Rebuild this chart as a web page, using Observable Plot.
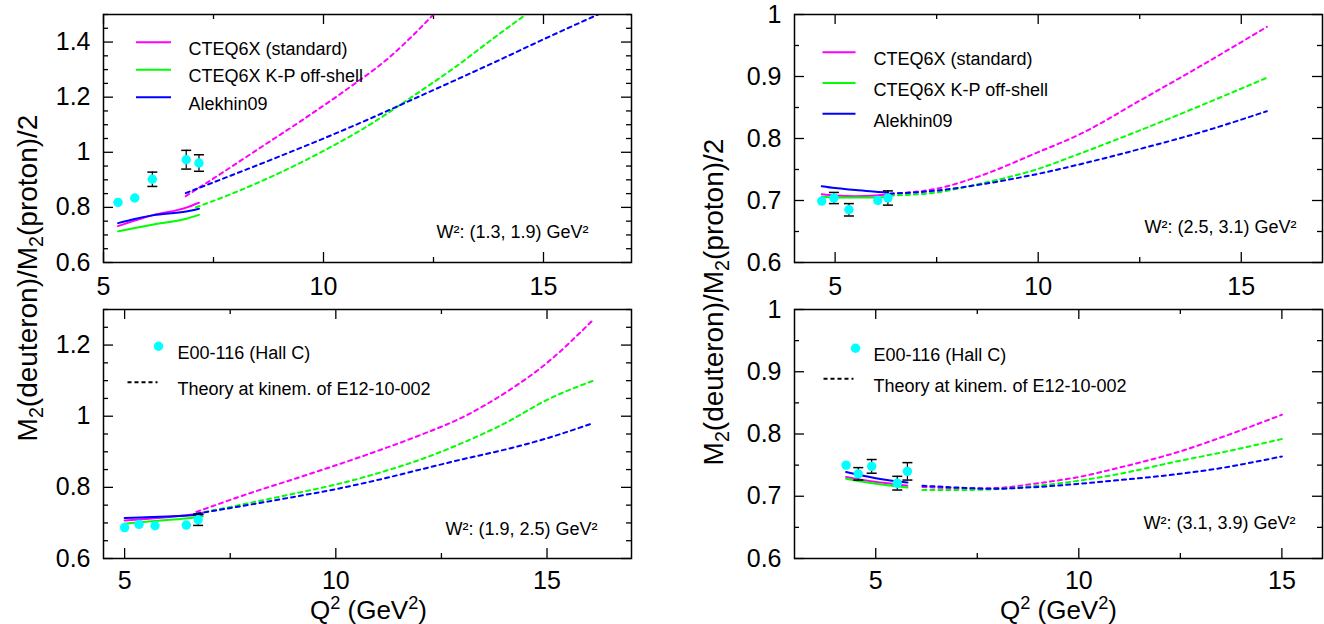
<!DOCTYPE html>
<html><head><meta charset="utf-8">
<script src="https://cdn.jsdelivr.net/npm/d3@7"></script>
<script src="https://cdn.jsdelivr.net/npm/@observablehq/plot@0.6"></script>
<style>
body{margin:0;background:#fff;}
#wrap{position:relative;width:1324px;height:624px;overflow:hidden;font-family:"Liberation Sans",Arial,Helvetica,sans-serif;}
#wrap svg{position:absolute;}
</style>
</head><body><div id="wrap"></div>
<script>
// ---------- data ----------
// Panel A: W^2 (1.3, 1.9)
const q2DataA = [5.33, 5.71, 6.11, 6.88, 7.17];
const ratioDataA = [0.818, 0.834, 0.902, 0.973, 0.961];
const errDataA = [0, 0, 0.026, 0.034, 0.030];
const q2SolidA = [5.33, 5.71, 6.11, 6.88, 7.17];
const cteqSolidA = [0.732, 0.752, 0.771, 0.799, 0.817];
const kpSolidA = [0.713, 0.725, 0.737, 0.759, 0.773];
const alekSolidA = [0.743, 0.758, 0.771, 0.785, 0.795];
const q2CteqDashA = [6.87, 7.5, 8.5, 9.5, 10.5, 11.5, 12.5];
const cteqDashA = [0.841, 0.905, 1.01, 1.115, 1.225, 1.345, 1.5];
const q2KpDashA = [7.1, 8, 9, 10, 11, 12, 13, 14, 14.6];
const kpDashA = [0.80, 0.855, 0.925, 1.005, 1.095, 1.2, 1.31, 1.43, 1.5];
const q2AlekDashA = [6.87, 8, 9, 10, 11, 12, 13, 14, 15, 16.24];
const alekDashA = [0.852, 0.922, 0.985, 1.05, 1.118, 1.19, 1.262, 1.335, 1.41, 1.5];

// Panel B: W^2 (2.5, 3.1)
const q2DataB = [4.67, 4.97, 5.34, 6.05, 6.30];
const ratioDataB = [0.699, 0.704, 0.685, 0.700, 0.704];
const errDataB = [0, 0.009, 0.010, 0, 0.0115];
const q2SolidB = [4.67, 5.0, 5.5, 6.0, 6.3];
const cteqSolidB = [0.710, 0.708, 0.707, 0.708, 0.710];
const kpSolidB = [0.706, 0.705, 0.705, 0.705, 0.706];
const alekSolidB = [0.723, 0.720, 0.717, 0.714, 0.713];
const q2DashB = [6.35, 7.5, 8.5, 10, 11, 12.5, 14, 15.63];
const cteqDashB = [0.711, 0.719, 0.738, 0.778, 0.806, 0.861, 0.917, 0.980];
const kpDashB = [0.708, 0.713, 0.726, 0.751, 0.775, 0.813, 0.853, 0.898];
const alekDashB = [0.711, 0.716, 0.725, 0.743, 0.758, 0.783, 0.810, 0.844];

// Panel C: W^2 (1.9, 2.5)
const q2DataC = [5.0, 5.34, 5.72, 6.46, 6.74];
const ratioDataC = [0.687, 0.696, 0.692, 0.694, 0.709];
const errDataC = [0, 0, 0, 0, 0.016];
const q2SolidC = [5.0, 5.5, 6.0, 6.5, 6.85];
const cteqSolidC = [0.707, 0.711, 0.716, 0.722, 0.729];
const kpSolidC = [0.698, 0.703, 0.708, 0.713, 0.719];
const alekSolidC = [0.714, 0.716, 0.718, 0.721, 0.724];
const q2DashC = [6.7, 8, 9, 10, 11, 12, 13, 14, 15, 16.1];
const cteqDashC = [0.731, 0.785, 0.823, 0.862, 0.903, 0.947, 0.997, 1.065, 1.15, 1.272];
const kpDashC = [0.726, 0.757, 0.782, 0.808, 0.84, 0.878, 0.925, 0.98, 1.046, 1.10];
const alekDashC = [0.726, 0.752, 0.773, 0.795, 0.821, 0.850, 0.879, 0.906, 0.938, 0.981];

// Panel D: W^2 (3.1, 3.9)
const q2DataD = [4.27, 4.57, 4.90, 5.53, 5.78];
const ratioDataD = [0.750, 0.736, 0.748, 0.721, 0.740];
const errDataD = [0, 0.010, 0.011, 0.011, 0.014];
const q2SolidD = [4.27, 4.6, 5.0, 5.4, 5.78];
const cteqSolidD = [0.731, 0.727, 0.723, 0.720, 0.717];
const kpSolidD = [0.728, 0.724, 0.720, 0.717, 0.714];
const alekSolidD = [0.739, 0.734, 0.729, 0.725, 0.722];
const q2DashD = [6.15, 7, 7.83, 9, 10, 11, 12.49, 13.57, 15];
const cteqDashD = [0.715, 0.713, 0.713, 0.721, 0.731, 0.746, 0.772, 0.796, 0.831];
const kpDashD = [0.710, 0.710, 0.711, 0.717, 0.725, 0.736, 0.757, 0.771, 0.792];
const alekDashD = [0.717, 0.714, 0.712, 0.715, 0.720, 0.726, 0.736, 0.746, 0.764];

// tick labels
const xTickLabels = [5, 10, 15];
const xMinorTicks = [7.5, 12.5];
const yTicksA = [0.6, 0.8, 1, 1.2, 1.4];
const yTicksB = [0.6, 0.7, 0.8, 0.9, 1];
const yTicksC = [0.6, 0.8, 1, 1.2];
const yTicksD = [0.6, 0.7, 0.8, 0.9, 1];

// texts
const seriesNames = ["CTEQ6X (standard)", "CTEQ6X K-P off-shell", "Alekhin09"];
const seriesColors = ["#ff00ff", "#00ff00", "#0000ff"];
const dataName = "E00-116 (Hall C)";
const theoryName = "Theory at kinem. of E12-10-002";
const w2Labels = ["W²: (1.3, 1.9) GeV²", "W²: (2.5, 3.1) GeV²", "W²: (1.9, 2.5) GeV²", "W²: (3.1, 3.9) GeV²"];
const yTitleParts = [["M", 0], ["2", 1], ["(deuteron)/M", 0], ["2", 1], ["(proton)/2", 0]];
const xTitleParts = [["Q", 0], ["2", 2], [" (GeV", 0], ["2", 2], [")", 0]];

// ---------- helpers ----------
const FONT = '"Liberation Sans", Arial, Helvetica, sans-serif';
const DASH = "4,4";
const rows = (xs, ys) => xs.map((x, i) => ({x, y: ys[i]}));
const round = v => Math.round(v * 1000) / 1000;
const minorY = (lo, hi) => d3.range(0, Math.round((hi - lo) / 0.05) + 1).map(i => round(lo + i * 0.05));
const hLine = half => ({draw(ctx) { ctx.moveTo(-half, 0); ctx.lineTo(half, 0); }});
const capSym = hLine(5);

function panel(o) {
  const W = 662, H = o.height;
  const FW = W - o.ml - o.mr, FH = H - o.mt - o.mb;
  const tk = {stroke: "#000", strokeWidth: 1.3};
  const yMinor = minorY(o.ydom[0], o.ydom[1]).filter(v => !o.yTicks.some(t => Math.abs(t - v) < 1e-6));
  const marks = [
    Plot.tickX(xTickLabels, {x: d => d, insetTop: FH - 10, ...tk}),
    Plot.tickX(xTickLabels, {x: d => d, insetBottom: FH - 10, ...tk}),
    Plot.tickX(xMinorTicks, {x: d => d, insetTop: FH - 5, ...tk}),
    Plot.tickX(xMinorTicks, {x: d => d, insetBottom: FH - 5, ...tk}),
    Plot.tickY(o.yTicks, {y: d => d, insetRight: FW - 10, ...tk}),
    Plot.tickY(o.yTicks, {y: d => d, insetLeft: FW - 10, ...tk}),
    Plot.tickY(yMinor, {y: d => d, insetRight: FW - 5, ...tk}),
    Plot.tickY(yMinor, {y: d => d, insetLeft: FW - 5, ...tk}),
    Plot.axisX(xTickLabels, {tickSize: 0, tickPadding: o.xpad, fontSize: 25, tickFormat: d => String(d), label: null}),
    Plot.axisY(o.yTicks, {tickSize: 0, tickPadding: 13, fontSize: 25, tickFormat: d => String(d), label: null}),
  ];
  o.solid.forEach((s, i) => marks.push(Plot.line(rows(s.x, s.y), {x: "x", y: "y", stroke: seriesColors[i], strokeWidth: 2, curve: "monotone-x", clip: true})));
  o.dash.forEach((s, i) => marks.push(Plot.line(rows(s.x, s.y), {x: "x", y: "y", stroke: seriesColors[i], strokeWidth: 2, strokeDasharray: DASH, curve: "monotone-x", clip: true})));
  const pts = o.data.x.map((x, i) => ({x, y: o.data.y[i], e: o.data.e[i]}));
  const ebar = pts.filter(d => d.e > 0);
  marks.push(Plot.ruleX(ebar, {x: "x", y1: d => d.y - d.e, y2: d => d.y + d.e, stroke: "#000", strokeWidth: 1.2}));
  marks.push(Plot.dot(ebar.flatMap(d => [{x: d.x, y: d.y - d.e}, {x: d.x, y: d.y + d.e}]), {x: "x", y: "y", symbol: capSym, stroke: "#000", fill: "none", strokeWidth: 1.5}));
  marks.push(Plot.dot(pts, {x: "x", y: "y", r: 4.7, fill: "#00ffff", stroke: "none"}));
  if (o.legend === "series") {
    seriesNames.forEach((name, i) => {
      marks.push(Plot.dot([name], {frameAnchor: "top-left", dx: o.lg.lx, dy: o.lg.y0 + i * o.lg.dy, symbol: hLine(o.lg.half), stroke: seriesColors[i], fill: "none", strokeWidth: 2}));
      marks.push(Plot.text([name], {text: d => d, frameAnchor: "top-left", dx: o.lg.tx, dy: o.lg.y0 + i * o.lg.dy, textAnchor: "start", fontSize: 18, fill: "#000"}));
    });
  } else {
    marks.push(Plot.dot([dataName], {frameAnchor: "top-left", dx: o.lg.dotx, dy: o.lg.y0, r: 4.7, fill: "#00ffff", stroke: "none"}));
    marks.push(Plot.text([dataName], {text: d => d, frameAnchor: "top-left", dx: o.lg.tx, dy: o.lg.y0, textAnchor: "start", fontSize: 18, fill: "#000"}));
    marks.push(Plot.dot([theoryName], {frameAnchor: "top-left", dx: o.lg.lx, dy: o.lg.y1, symbol: hLine(o.lg.half), stroke: "#000", fill: "none", strokeWidth: 2, strokeDasharray: "4,3"}));
    marks.push(Plot.text([theoryName], {text: d => d, frameAnchor: "top-left", dx: o.lg.tx, dy: o.lg.y1, textAnchor: "start", fontSize: 18, fill: "#000"}));
  }
  marks.push(Plot.text([o.w2], {text: d => d, frameAnchor: "bottom-right", dx: o.w2dx, dy: o.w2dy, textAnchor: "end", fontSize: 18, fill: "#000"}));
  marks.push(Plot.frame({stroke: "#000", strokeWidth: 1.5}));

  const el = Plot.plot({
    width: W, height: H,
    marginLeft: o.ml, marginRight: o.mr, marginTop: o.mt, marginBottom: o.mb,
    x: {domain: o.xdom, label: null},
    y: {domain: o.ydom, label: null},
    style: {fontFamily: FONT, fontSize: "25px", background: "transparent", color: "#000", overflow: "visible"},
    marks
  });
  el.style.left = o.left + "px";
  el.style.top = o.top + "px";
  document.getElementById("wrap").appendChild(el);
}

panel({
  left: 0, top: 0, height: 300, ml: 103, mr: 31, mt: 14, mb: 38, xpad: 15,
  xdom: [5, 17], ydom: [0.6, 1.5], yTicks: yTicksA,
  data: {x: q2DataA, y: ratioDataA, e: errDataA},
  solid: [{x: q2SolidA, y: cteqSolidA}, {x: q2SolidA, y: kpSolidA}, {x: q2SolidA, y: alekSolidA}],
  dash: [{x: q2CteqDashA, y: cteqDashA}, {x: q2KpDashA, y: kpDashA}, {x: q2AlekDashA, y: alekDashA}],
  legend: "series", lg: {lx: 50, half: 17.5, tx: 85, y0: 27.7, dy: 27.5},
  w2: w2Labels[0], w2dx: -43, w2dy: -25
});
panel({
  left: 662, top: 0, height: 300, ml: 132, mr: 2, mt: 14, mb: 38, xpad: 15,
  xdom: [4, 17], ydom: [0.6, 1.0], yTicks: yTicksB,
  data: {x: q2DataB, y: ratioDataB, e: errDataB},
  solid: [{x: q2SolidB, y: cteqSolidB}, {x: q2SolidB, y: kpSolidB}, {x: q2SolidB, y: alekSolidB}],
  dash: [{x: q2DashB, y: cteqDashB}, {x: q2DashB, y: kpDashB}, {x: q2DashB, y: alekDashB}],
  legend: "series", lg: {lx: 44.5, half: 16.5, tx: 79, y0: 37.7, dy: 30.8},
  w2: w2Labels[1], w2dx: -26, w2dy: -30
});
panel({
  left: 0, top: 300, height: 324, ml: 103, mr: 31, mt: 9, mb: 66, xpad: 13,
  xdom: [4.5, 17], ydom: [0.6, 1.3], yTicks: yTicksC,
  data: {x: q2DataC, y: ratioDataC, e: errDataC},
  solid: [{x: q2SolidC, y: cteqSolidC}, {x: q2SolidC, y: kpSolidC}, {x: q2SolidC, y: alekSolidC}],
  dash: [{x: q2DashC, y: cteqDashC}, {x: q2DashC, y: kpDashC}, {x: q2DashC, y: alekDashC}],
  legend: "data", lg: {dotx: 55, lx: 39, half: 15, tx: 74, y0: 36.7, y1: 72.7},
  w2: w2Labels[2], w2dx: -34, w2dy: -24
});
panel({
  left: 662, top: 300, height: 324, ml: 132, mr: 2, mt: 9, mb: 66, xpad: 13,
  xdom: [3, 16], ydom: [0.6, 1.0], yTicks: yTicksD,
  data: {x: q2DataD, y: ratioDataD, e: errDataD},
  solid: [{x: q2SolidD, y: cteqSolidD}, {x: q2SolidD, y: kpSolidD}, {x: q2SolidD, y: alekSolidD}],
  dash: [{x: q2DashD, y: cteqDashD}, {x: q2DashD, y: kpDashD}, {x: q2DashD, y: alekDashD}],
  legend: "data", lg: {dotx: 61, lx: 44, half: 15, tx: 79, y0: 38.7, y1: 69.3},
  w2: w2Labels[3], w2dx: -27, w2dy: -30
});

// ---------- axis titles (shared across rows) ----------
const ov = d3.select("#wrap").append("svg")
  .attr("width", 1324).attr("height", 624)
  .style("left", "0px").style("top", "0px").style("pointer-events", "none")
  .attr("font-family", FONT);

function richText(g, parts, size) {
  parts.forEach(([s, kind], i) => {
    const t = g.append("tspan").text(s);
    const prev = i > 0 ? parts[i - 1][1] : 0;
    let dy = 0;
    if (prev === 1) dy -= 6;
    if (prev === 2) dy += 10;
    if (kind === 1) { dy += 6; t.attr("font-size", size * 0.7); }
    if (kind === 2) { dy -= 10; t.attr("font-size", size * 0.7); }
    if (dy) t.attr("dy", dy);
  });
}
[[37, 278], [723, 302]].forEach(([x, y]) => {
  const t = ov.append("text").attr("transform", `translate(${x},${y}) rotate(-90)`)
    .attr("text-anchor", "middle").attr("font-size", 28).attr("fill", "#000");
  richText(t, yTitleParts, 28);
});
[[427, 619], [1117, 619]].forEach(([x, y]) => {
  const t = ov.append("text").attr("x", x).attr("y", y)
    .attr("text-anchor", "end").attr("font-size", 26).attr("fill", "#000");
  richText(t, xTitleParts, 26);
});
</script>
</body></html>
